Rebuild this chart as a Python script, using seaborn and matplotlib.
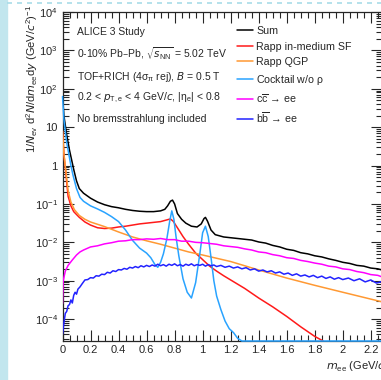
# libraries
import numpy as np
import matplotlib
matplotlib.use('Agg')
import matplotlib.pyplot as plt
import matplotlib.ticker as mticker
from matplotlib.patches import Rectangle
from matplotlib.lines import Line2D
import seaborn as sns

# data (values are log10 of the yield)
sum_x = [0.0, 0.01, 0.03, 0.05, 0.08, 0.1, 0.12, 0.15, 0.2, 0.25, 0.3, 0.35, 0.4, 0.45, 0.5, 0.55,
         0.6, 0.65, 0.7, 0.73, 0.75, 0.77, 0.785, 0.8, 0.82, 0.85, 0.88, 0.92, 0.96, 0.99, 1.01,
         1.02, 1.035, 1.06, 1.09, 1.15, 1.2, 1.25, 1.3, 1.35, 1.4, 1.45, 1.5, 1.55, 1.6, 1.65, 1.7,
         1.75, 1.8, 1.85, 1.9, 1.95, 2.0, 2.05, 2.1, 2.15, 2.2, 2.25, 2.28]
sum_log = [1.8, 1.3, 0.8, 0.4, -0.1, -0.4, -0.6, -0.72, -0.85, -0.95, -1.02, -1.07, -1.1, -1.14, -1.17,
           -1.19, -1.2, -1.2, -1.18, -1.14, -1.05, -0.93, -0.9, -1.0, -1.25, -1.4, -1.5, -1.58, -1.6,
           -1.52, -1.38, -1.35, -1.45, -1.68, -1.8, -1.86, -1.88, -1.9, -1.92, -1.94, -1.99, -2.02,
           -2.08, -2.12, -2.18, -2.21, -2.27, -2.3, -2.35, -2.38, -2.43, -2.47, -2.52, -2.55, -2.6,
           -2.62, -2.67, -2.69, -2.72]

sf_x = [0.0, 0.01, 0.04, 0.06, 0.08, 0.12, 0.16, 0.2, 0.25, 0.3, 0.35, 0.4, 0.45, 0.5, 0.55, 0.6,
        0.65, 0.7, 0.75, 0.77, 0.79, 0.82, 0.86, 0.9, 0.95, 1.0, 1.05, 1.1, 1.15, 1.2, 1.3, 1.4,
        1.5, 1.6, 1.7, 1.8, 1.86]
sf_log = [0.9, 0.3, -0.8, -1.05, -1.2, -1.35, -1.47, -1.55, -1.62, -1.64, -1.63, -1.6, -1.58, -1.55,
          -1.52, -1.5, -1.48, -1.46, -1.41, -1.39, -1.45, -1.62, -1.85, -2.05, -2.28, -2.45, -2.62,
          -2.75, -2.87, -2.98, -3.2, -3.45, -3.68, -3.93, -4.2, -4.45, -4.65]

qgp_x = [0.0, 0.01, 0.04, 0.06, 0.085, 0.12, 0.16, 0.2, 0.25, 0.3, 0.4, 0.5, 0.6, 0.7, 0.8, 0.9,
         1.0, 1.2, 1.4, 1.6, 1.8, 2.0, 2.28]
qgp_log = [0.9, 0.3, -0.65, -0.95, -1.15, -1.3, -1.4, -1.47, -1.53, -1.59, -1.73, -1.86, -1.96,
           -2.05, -2.15, -2.25, -2.33, -2.5, -2.72, -2.93, -3.12, -3.3, -3.55]

cocktail_x = [0.0, 0.01, 0.03, 0.04, 0.06, 0.075, 0.1, 0.125, 0.15, 0.2, 0.25, 0.3, 0.35, 0.4, 0.45,
              0.5, 0.55, 0.6, 0.63, 0.66, 0.68, 0.7, 0.72, 0.745, 0.765, 0.78, 0.795, 0.81, 0.83,
              0.86, 0.89, 0.92, 0.95, 0.98, 1.0, 1.02, 1.04, 1.06, 1.08, 1.1, 1.13, 1.16, 1.19,
              1.22, 1.25, 1.28, 1.3, 1.6, 2.0, 2.28]
cocktail_log = [1.8, 1.2, 0.6, 0.4, 0.0, -0.25, -0.6, -0.83, -0.93, -1.05, -1.13, -1.22, -1.33, -1.46,
                -1.68, -1.95, -2.15, -2.28, -2.4, -2.58, -2.65, -2.52, -2.3, -1.9, -1.45, -1.18, -1.4,
                -1.85, -2.35, -2.95, -3.3, -3.45, -3.05, -2.3, -1.75, -1.58, -1.85, -2.4, -3.0, -3.4,
                -3.75, -4.05, -4.25, -4.35, -4.5, -4.58, -4.7, -5.5, -5.5, -5.5]

cc_x = [0.0, 0.005, 0.02, 0.04, 0.07, 0.1, 0.125, 0.15, 0.2, 0.25, 0.3, 0.35, 0.4, 0.45, 0.5, 0.55,
        0.6, 0.65, 0.7, 0.75, 0.8, 0.85, 0.9, 0.95, 1.0, 1.05, 1.1, 1.15, 1.2, 1.25, 1.3, 1.35, 1.4,
        1.45, 1.5, 1.55, 1.6, 1.65, 1.7, 1.75, 1.8, 1.85, 1.9, 1.95, 2.0, 2.05, 2.1, 2.15, 2.2, 2.25,
        2.28]
cc_log = [-3.6, -3.0, -2.75, -2.6, -2.46, -2.33, -2.25, -2.2, -2.12, -2.09, -2.04, -2.01, -1.97, -1.96,
          -1.93, -1.93, -1.91, -1.92, -1.9, -1.93, -1.93, -1.97, -1.97, -2.0, -2.01, -2.03, -2.05,
          -2.09, -2.11, -2.13, -2.17, -2.2, -2.25, -2.27, -2.32, -2.35, -2.4, -2.42, -2.47, -2.5,
          -2.54, -2.57, -2.62, -2.64, -2.69, -2.71, -2.76, -2.79, -2.84, -2.86, -2.9]

bb_x = [0.0, 0.01, 0.02, 0.03, 0.04, 0.05, 0.06, 0.07, 0.08, 0.09, 0.1, 0.11, 0.125, 0.14, 0.16, 0.18,
        0.2, 0.22, 0.24, 0.26, 0.28, 0.3, 0.32, 0.34, 0.36, 0.38, 0.4, 0.42, 0.44, 0.46, 0.48, 0.5,
        0.52, 0.54, 0.56, 0.58, 0.6, 0.62, 0.64, 0.66, 0.68, 0.7, 0.72, 0.74, 0.76, 0.78, 0.8, 0.82,
        0.84, 0.86, 0.88, 0.9, 0.92, 0.94, 0.96, 0.98, 1.0, 1.02, 1.04, 1.06, 1.08, 1.1, 1.13, 1.16,
        1.19, 1.22, 1.25, 1.28, 1.31, 1.34, 1.37, 1.4, 1.43, 1.46, 1.49, 1.52, 1.55, 1.58, 1.61,
        1.64, 1.67, 1.7, 1.73, 1.76, 1.79, 1.82, 1.85, 1.88, 1.91, 1.94, 1.97, 2.0, 2.04, 2.08,
        2.12, 2.16, 2.2, 2.24, 2.28]
bb_log = [-4.4, -4.1, -3.85, -3.8, -3.65, -3.62, -3.5, -3.58, -3.38, -3.3, -3.35, -3.22, -3.16, -3.08,
          -2.98, -2.97, -2.92, -2.93, -2.87, -2.88, -2.83, -2.84, -2.78, -2.8, -2.74, -2.76, -2.71,
          -2.72, -2.68, -2.7, -2.65, -2.67, -2.63, -2.66, -2.61, -2.64, -2.6, -2.63, -2.59, -2.62,
          -2.57, -2.61, -2.58, -2.62, -2.57, -2.6, -2.56, -2.61, -2.58, -2.62, -2.57, -2.6, -2.56,
          -2.61, -2.58, -2.6, -2.57, -2.62, -2.58, -2.61, -2.59, -2.63, -2.6, -2.65, -2.62, -2.67,
          -2.64, -2.69, -2.66, -2.72, -2.69, -2.75, -2.72, -2.77, -2.74, -2.8, -2.77, -2.83, -2.8,
          -2.86, -2.82, -2.88, -2.85, -2.9, -2.86, -2.92, -2.88, -2.94, -2.9, -2.96, -2.92, -2.97,
          -2.93, -3.0, -2.95, -3.03, -2.98, -3.06, -3.02]

labels = ['Sum', 'Rapp in-medium SF', 'Rapp QGP', r'Cocktail w/o $\rho$',
          r'c$\overline{c}$ → ee', r'b$\overline{b}$ → ee']
colors = ['black', '#ff1a1a', '#ff9933', '#29a3ff', '#ff00ff', '#2222ff']
y_decades = [-4, -3, -2, -1, 0, 1, 2, 3, 4]

ymin, ymax = 10 ** -4.57, 1e4
xmin, xmax = 0, 2.28

# style
sns.set_style('ticks')
plt.rcParams['font.family'] = ['Liberation Sans', 'DejaVu Sans']
plt.rcParams['mathtext.default'] = 'regular'
plt.rcParams['font.size'] = 8

fig = plt.figure(figsize=(3.81, 3.80), dpi=100)
ax = fig.add_axes([62.5 / 381, 39 / 380, (382 - 62.5) / 381, (341 - 12) / 380])

series = [(sum_x, sum_log), (sf_x, sf_log), (qgp_x, qgp_log), (cocktail_x, cocktail_log),
          (cc_x, cc_log), (bb_x, bb_log)]
draw_order = [5, 4, 3, 2, 1, 0]
for i in draw_order:
    xs, logs = series[i]
    ys = np.maximum(10 ** np.array(logs), ymin)
    sns.lineplot(x=xs, y=ys, ax=ax, color=colors[i], lw=1.1, estimator=None, sort=False,
                 clip_on=(i != 3), zorder=3 + i * 0.1)

ax.set_yscale('log')
ax.set_xlim(xmin, xmax)
ax.set_ylim(ymin, ymax)

# ROOT-like ticks
ax.xaxis.set_major_locator(mticker.MultipleLocator(0.2))
ax.xaxis.set_minor_locator(mticker.MultipleLocator(0.05))
ax.xaxis.set_major_formatter(mticker.FuncFormatter(lambda v, p: '%g' % round(v, 2)))
ax.yaxis.set_major_locator(mticker.FixedLocator([10.0 ** e for e in y_decades]))
ax.yaxis.set_minor_locator(mticker.LogLocator(base=10, subs=np.arange(2, 10), numticks=20))

def ylab(v, p):
    e = int(round(np.log10(v)))
    if e == 0:
        return '1'
    if e == 1:
        return '10'
    return r'$10^{%d}$' % e

ax.yaxis.set_major_formatter(mticker.FuncFormatter(ylab))
ax.tick_params(which='both', direction='in', top=True, right=True, width=0.8, labelsize=8)
ax.tick_params(which='major', length=8)
ax.tick_params(which='minor', length=4)
ax.tick_params(axis='x', pad=3)
for s in ax.spines.values():
    s.set_linewidth(0.9)

# axis titles
fig.text(32 / 381, 1 - 5 / 380,
         r'1/$\mathit{N}_{ev}$ d$^{2}$$\mathit{N}$/d$\mathit{m}_{ee}$d$\mathit{y}$ (GeV/$\mathit{c}^{2}$)$^{-1}$',
         rotation=90, ha='center', va='top', fontsize=8)
fig.text(326 / 381, 1 - 366 / 380, r'$\mathit{m}_{ee}$ (GeV/$\mathit{c}^{2}$)',
         ha='left', va='center', fontsize=8)

# annotations
notes = ['ALICE 3 Study',
         r'0-10% Pb–Pb, $\sqrt{\mathit{s}_{NN}}$ = 5.02 TeV',
         r'TOF+RICH (4$\sigma_{\pi}$ rej), $\mathit{B}$ = 0.5 T',
         r'0.2 < $\mathit{p}_{T,e}$ < 4 GeV/$\mathit{c}$, |$\eta_{e}$| < 0.8',
         'No bremsstrahlung included']
note_y = [32, 54, 77, 98, 119]
for t, yy in zip(notes, note_y):
    fig.text(77 / 381, 1 - yy / 380, t, ha='left', va='center', fontsize=7.5)

# legend
handles = [Line2D([], [], color=c, lw=1.1) for c in colors]
leg = ax.legend(handles, labels, loc='upper left', bbox_to_anchor=(237 / 381, 1 - 26 / 380),
                bbox_transform=fig.transFigure, frameon=False, borderpad=0, borderaxespad=0,
                handlelength=1.45, handletextpad=0.35, labelspacing=0.52, fontsize=7.7)

# screenshot frame bits
fig.patches.append(Rectangle((0, 0), 7 / 381, 1, transform=fig.transFigure,
                             color='#c2e6ee', zorder=0))
fig.lines.append(Line2D([7 / 381, 1], [1 - 2.5 / 380, 1 - 2.5 / 380], transform=fig.transFigure,
                        color='#a8dce8', lw=1.2, ls=(0, (3, 3))))

fig.savefig('out.png', dpi=100)
